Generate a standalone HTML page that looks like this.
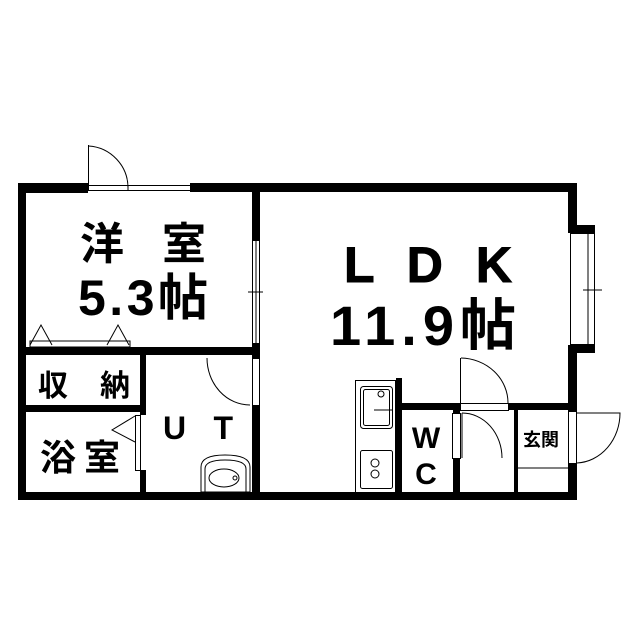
<!DOCTYPE html><html><head><style>body{margin:0;background:#fff}svg{display:block}text{font-family:"Liberation Sans","Noto Sans CJK JP",sans-serif;fill:#000;font-weight:bold}</style></head><body>
<svg width="639" height="640" viewBox="0 0 639 640" xmlns="http://www.w3.org/2000/svg">
<g fill="#000">
<rect x="18" y="183" width="70" height="10"/>
<rect x="190" y="183" width="387" height="9"/>
<rect x="18" y="183" width="8" height="317"/>
<rect x="18" y="492" width="559" height="8"/>
<rect x="568" y="183" width="9" height="50"/>
<rect x="568" y="225" width="27" height="8"/>
<rect x="568" y="345" width="27" height="8"/>
<rect x="568" y="345" width="9" height="66"/>
<rect x="568" y="463" width="9" height="37"/>
<rect x="252" y="183" width="8" height="57"/>
<rect x="252" y="343" width="8" height="15"/>
<rect x="252" y="405" width="8" height="95"/>
<rect x="26" y="347" width="234" height="8"/>
<rect x="26" y="405" width="116" height="7"/>
<rect x="140" y="355" width="6" height="60"/>
<rect x="140" y="470" width="6" height="30"/>
<rect x="396" y="378" width="6" height="122"/>
<rect x="396" y="403" width="64" height="7"/>
<rect x="508" y="403" width="69" height="7"/>
<rect x="453" y="410" width="7" height="3"/>
<rect x="453" y="458" width="7" height="42"/>
<rect x="514" y="410" width="4" height="90"/>
</g>
<g fill="none" stroke="#000" stroke-width="1">
<rect x="88.5" y="185.5" width="102" height="5" fill="#fff"/>
<line x1="128" y1="185" x2="128" y2="191"/>
<line x1="88.5" y1="145" x2="88.5" y2="188"/>
<path d="M88.5 146 A42 42 0 0 1 128 188"/>
<rect x="252.5" y="240.5" width="7" height="103" fill="#fff"/>
<line x1="256" y1="240" x2="256" y2="343"/><line x1="248" y1="292" x2="263" y2="292"/>
<rect x="570.5" y="233.5" width="24" height="111"/>
<line x1="588" y1="233" x2="588" y2="345"/><line x1="583" y1="290" x2="602" y2="290"/>
<path d="M30 345 L41 325 L52 345 M107 345 L118 325 L129 345"/>
<rect x="30" y="341" width="100" height="6"/>
<rect x="135.5" y="415.5" width="5" height="55"/>
<path d="M135 416 L112 430 L135 442"/>
<rect x="252.5" y="358.5" width="7" height="47"/>
<path d="M207 358 A43 47 0 0 0 250 405"/>
<path d="M201 492 L201 467 Q201 455 225 455 Q250 455 250 467 L250 492 Z"/>
<path d="M205 492 L205 469 Q205 460 225 460 Q246 460 246 469 L246 492"/>
<ellipse cx="224" cy="478" rx="15" ry="9"/><circle cx="235" cy="478" r="2"/>
<rect x="355.5" y="380.5" width="40" height="112"/>
<rect x="360.5" y="386.5" width="32" height="42" rx="3"/>
<rect x="363.5" y="389.5" width="26" height="36" rx="2"/>
<circle cx="381" cy="394" r="3"/><line x1="374" y1="410" x2="393" y2="410"/>
<rect x="360.5" y="450.5" width="32" height="38" rx="2"/>
<circle cx="375" cy="463" r="4"/><circle cx="375" cy="474" r="4"/>
<rect x="452.5" y="413.5" width="8" height="45" fill="#fff"/>
<line x1="462" y1="413" x2="462" y2="458"/><path d="M462 413 A40 45 0 0 1 502 458"/>
<line x1="460.5" y1="358" x2="460.5" y2="403"/><path d="M461 358 A48 45 0 0 1 508 403"/>
<rect x="460.5" y="403.5" width="48" height="7"/>
<rect x="568.5" y="411.5" width="8" height="52" fill="#fff"/>
<path d="M577 413 L620 413 A45 50 0 0 1 577 463"/>
<line x1="518" y1="468" x2="568" y2="468"/>
</g>
<text x="80" y="259" font-size="44" textLength="126" lengthAdjust="spacing">洋 室</text>
<text x="78" y="315" font-size="50" textLength="130" lengthAdjust="spacing">5.3帖</text>
<text x="344" y="282" font-size="50" textLength="168" lengthAdjust="spacing" font-weight="normal" stroke="#000" stroke-width="1">L D K</text>
<text x="330" y="345" font-size="56" textLength="186" lengthAdjust="spacing">11.9帖</text>
<text x="38" y="396" font-size="30" textLength="92" lengthAdjust="spacing">収 納</text>
<text x="40" y="470" font-size="36" textLength="80" lengthAdjust="spacing">浴室</text>
<text x="163" y="439" font-size="32" textLength="70" lengthAdjust="spacing" font-weight="normal">U T</text>
<text x="426" y="448" font-size="30" text-anchor="middle" font-weight="normal">W</text>
<text x="426" y="484" font-size="30" text-anchor="middle" font-weight="normal">C</text>
<text x="541" y="446" font-size="18" text-anchor="middle" font-weight="normal">玄関</text>
</svg></body></html>
